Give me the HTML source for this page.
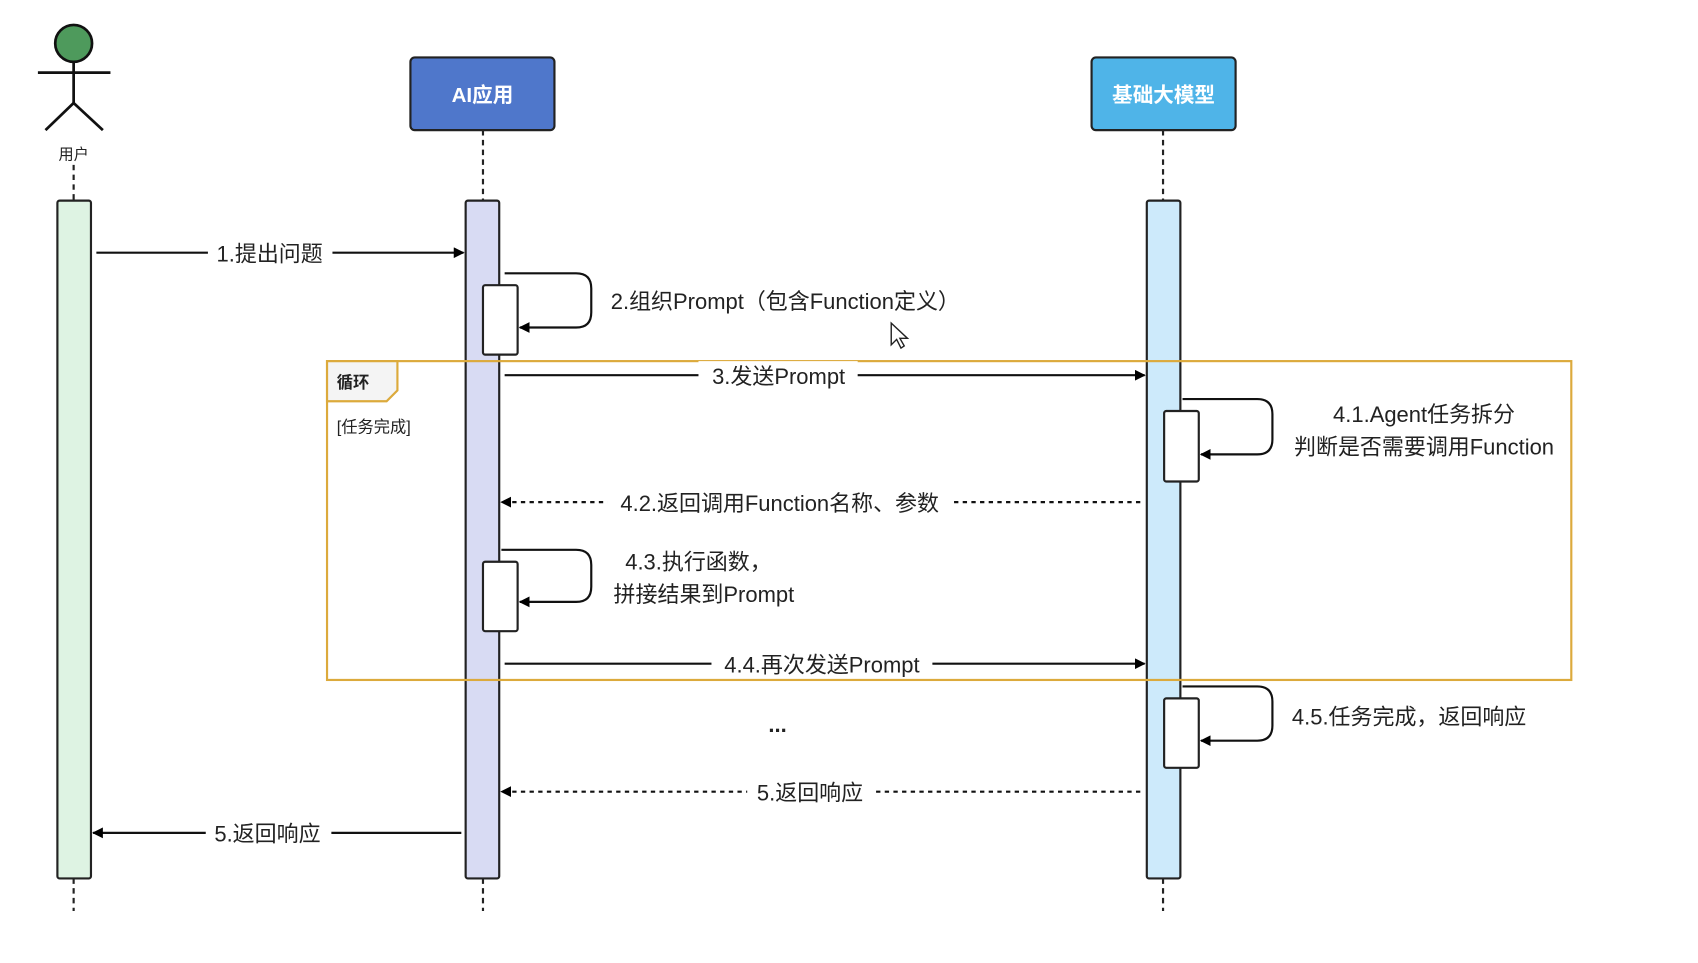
<!DOCTYPE html>
<html><head><meta charset="utf-8"><style>
html,body{margin:0;padding:0;background:#fff;}
svg{display:block;}
text{font-family:"Liberation Sans","Noto Sans CJK SC",sans-serif;fill:#222;}
</style></head><body>
<svg width="1698" height="963" viewBox="0 0 1568 888" preserveAspectRatio="none" xmlns="http://www.w3.org/2000/svg">
<defs>
<marker id="ah" markerWidth="10" markerHeight="10" refX="9" refY="5" orient="auto" markerUnits="userSpaceOnUse">
<path d="M0,0 L10,5 L0,10 z" fill="#000"/></marker>
</defs>
<rect width="1568" height="888" fill="#fff"/>
<circle cx="68" cy="40" r="17" fill="#4e9a5c" stroke="#111" stroke-width="2.5"/>
<g stroke="#111" stroke-width="2.5" fill="none">
<line x1="35" y1="67" x2="102" y2="67"/><line x1="68" y1="57" x2="68" y2="95"/>
<line x1="68" y1="95" x2="42" y2="120"/><line x1="68" y1="95" x2="95" y2="120"/>
</g>
<text x="68" y="147" font-size="14" text-anchor="middle" fill="#444">用户</text>
<g stroke="#222" stroke-width="2" stroke-dasharray="5,4">
<line x1="68" y1="152" x2="68" y2="185"/><line x1="68" y1="810" x2="68" y2="840"/>
<line x1="446" y1="120" x2="446" y2="185"/><line x1="446" y1="810" x2="446" y2="840"/>
<line x1="1074" y1="120" x2="1074" y2="185"/><line x1="1074" y1="810" x2="1074" y2="840"/>
</g>
<rect x="379" y="53" width="133" height="67" rx="4" fill="#4f77cb" stroke="#222" stroke-width="2"/>
<text x="445.5" y="94" font-size="19" font-weight="bold" text-anchor="middle" style="fill:#fff">AI应用</text>
<rect x="1008" y="53" width="133" height="67" rx="4" fill="#4fb4e8" stroke="#222" stroke-width="2"/>
<text x="1074.5" y="94" font-size="19" font-weight="bold" text-anchor="middle" style="fill:#fff">基础大模型</text>
<rect x="53" y="185" width="31" height="625" rx="2" fill="#def3e3" stroke="#222" stroke-width="2"/>
<rect x="430" y="185" width="31" height="625" rx="2" fill="#d8dbf3" stroke="#222" stroke-width="2"/>
<rect x="1059" y="185" width="31" height="625" rx="2" fill="#cdeafb" stroke="#222" stroke-width="2"/>
<rect x="302" y="333" width="1149" height="294" fill="none" stroke="#dcaa3c" stroke-width="2"/>
<path d="M302,333 L367,333 L367,360 L357,370 L302,370 z" fill="#f4f4f4" stroke="#dcaa3c" stroke-width="2"/>
<text x="311" y="358" font-size="15" font-weight="bold">循环</text>
<text x="311" y="399" font-size="15" fill="#444">[任务完成]</text>
<g fill="#fff" stroke="#222" stroke-width="2">
<rect x="446" y="263" width="32" height="64" rx="2"/>
<rect x="446" y="518" width="32" height="64" rx="2"/>
<rect x="1075" y="379" width="32" height="65" rx="2"/>
<rect x="1075" y="644" width="32" height="64" rx="2"/>
</g>
<g fill="none" stroke="#111" stroke-width="2" marker-end="url(#ah)">
<path d="M466,252 L532,252 Q546,252 546,266 L546,288 Q546,302 532,302 L480,302"/>
<path d="M463,507 L532,507 Q546,507 546,521 L546,541 Q546,555 532,555 L480,555"/>
<path d="M1092,368 L1161,368 Q1175,368 1175,382 L1175,405 Q1175,419 1161,419 L1109,419"/>
<path d="M1092,633 L1161,633 Q1175,633 1175,647 L1175,669 Q1175,683 1161,683 L1109,683"/>
<line x1="89" y1="233" x2="428" y2="233"/>
<line x1="466" y1="346" x2="1057" y2="346"/>
<line x1="466" y1="612" x2="1057" y2="612"/>
<line x1="426" y1="768" x2="86" y2="768"/>
<line x1="1053" y1="463" x2="463" y2="463" stroke-dasharray="4,4"/>
<line x1="1053" y1="730" x2="463" y2="730" stroke-dasharray="4,4"/>
</g>
<g fill="#fff">
<rect x="192" y="220" width="115" height="26"/>
<rect x="645" y="333" width="147" height="26"/>
<rect x="561" y="450" width="317" height="26"/>
<rect x="657" y="599" width="204" height="26"/>
<rect x="690" y="717" width="116" height="26"/>
<rect x="190" y="755" width="116" height="26"/>
</g>
<g font-size="20.3">
<text x="249" y="241" text-anchor="middle">1.提出问题</text>
<text x="564" y="285">2.组织Prompt（包含Function定义）</text>
<text x="719" y="354" text-anchor="middle">3.发送Prompt</text>
<text x="1315" y="389" text-anchor="middle">4.1.Agent任务拆分</text>
<text x="1315" y="419" text-anchor="middle">判断是否需要调用Function</text>
<text x="720" y="471" text-anchor="middle">4.2.返回调用Function名称、参数</text>
<text x="645" y="525" text-anchor="middle">4.3.执行函数，</text>
<text x="650" y="555" text-anchor="middle">拼接结果到Prompt</text>
<text x="759" y="620" text-anchor="middle">4.4.再次发送Prompt</text>
<text x="1193" y="668">4.5.任务完成，返回响应</text>
<text x="718" y="675" text-anchor="middle" font-weight="bold">...</text>
<text x="748" y="738" text-anchor="middle">5.返回响应</text>
<text x="247" y="776" text-anchor="middle">5.返回响应</text>
</g>
<path d="M823,298 L823,318 L828,313 L832,321 L835,319 L831,312 L838,312 z" fill="#fff" stroke="#222" stroke-width="1.3"/>
</svg>
</body></html>
